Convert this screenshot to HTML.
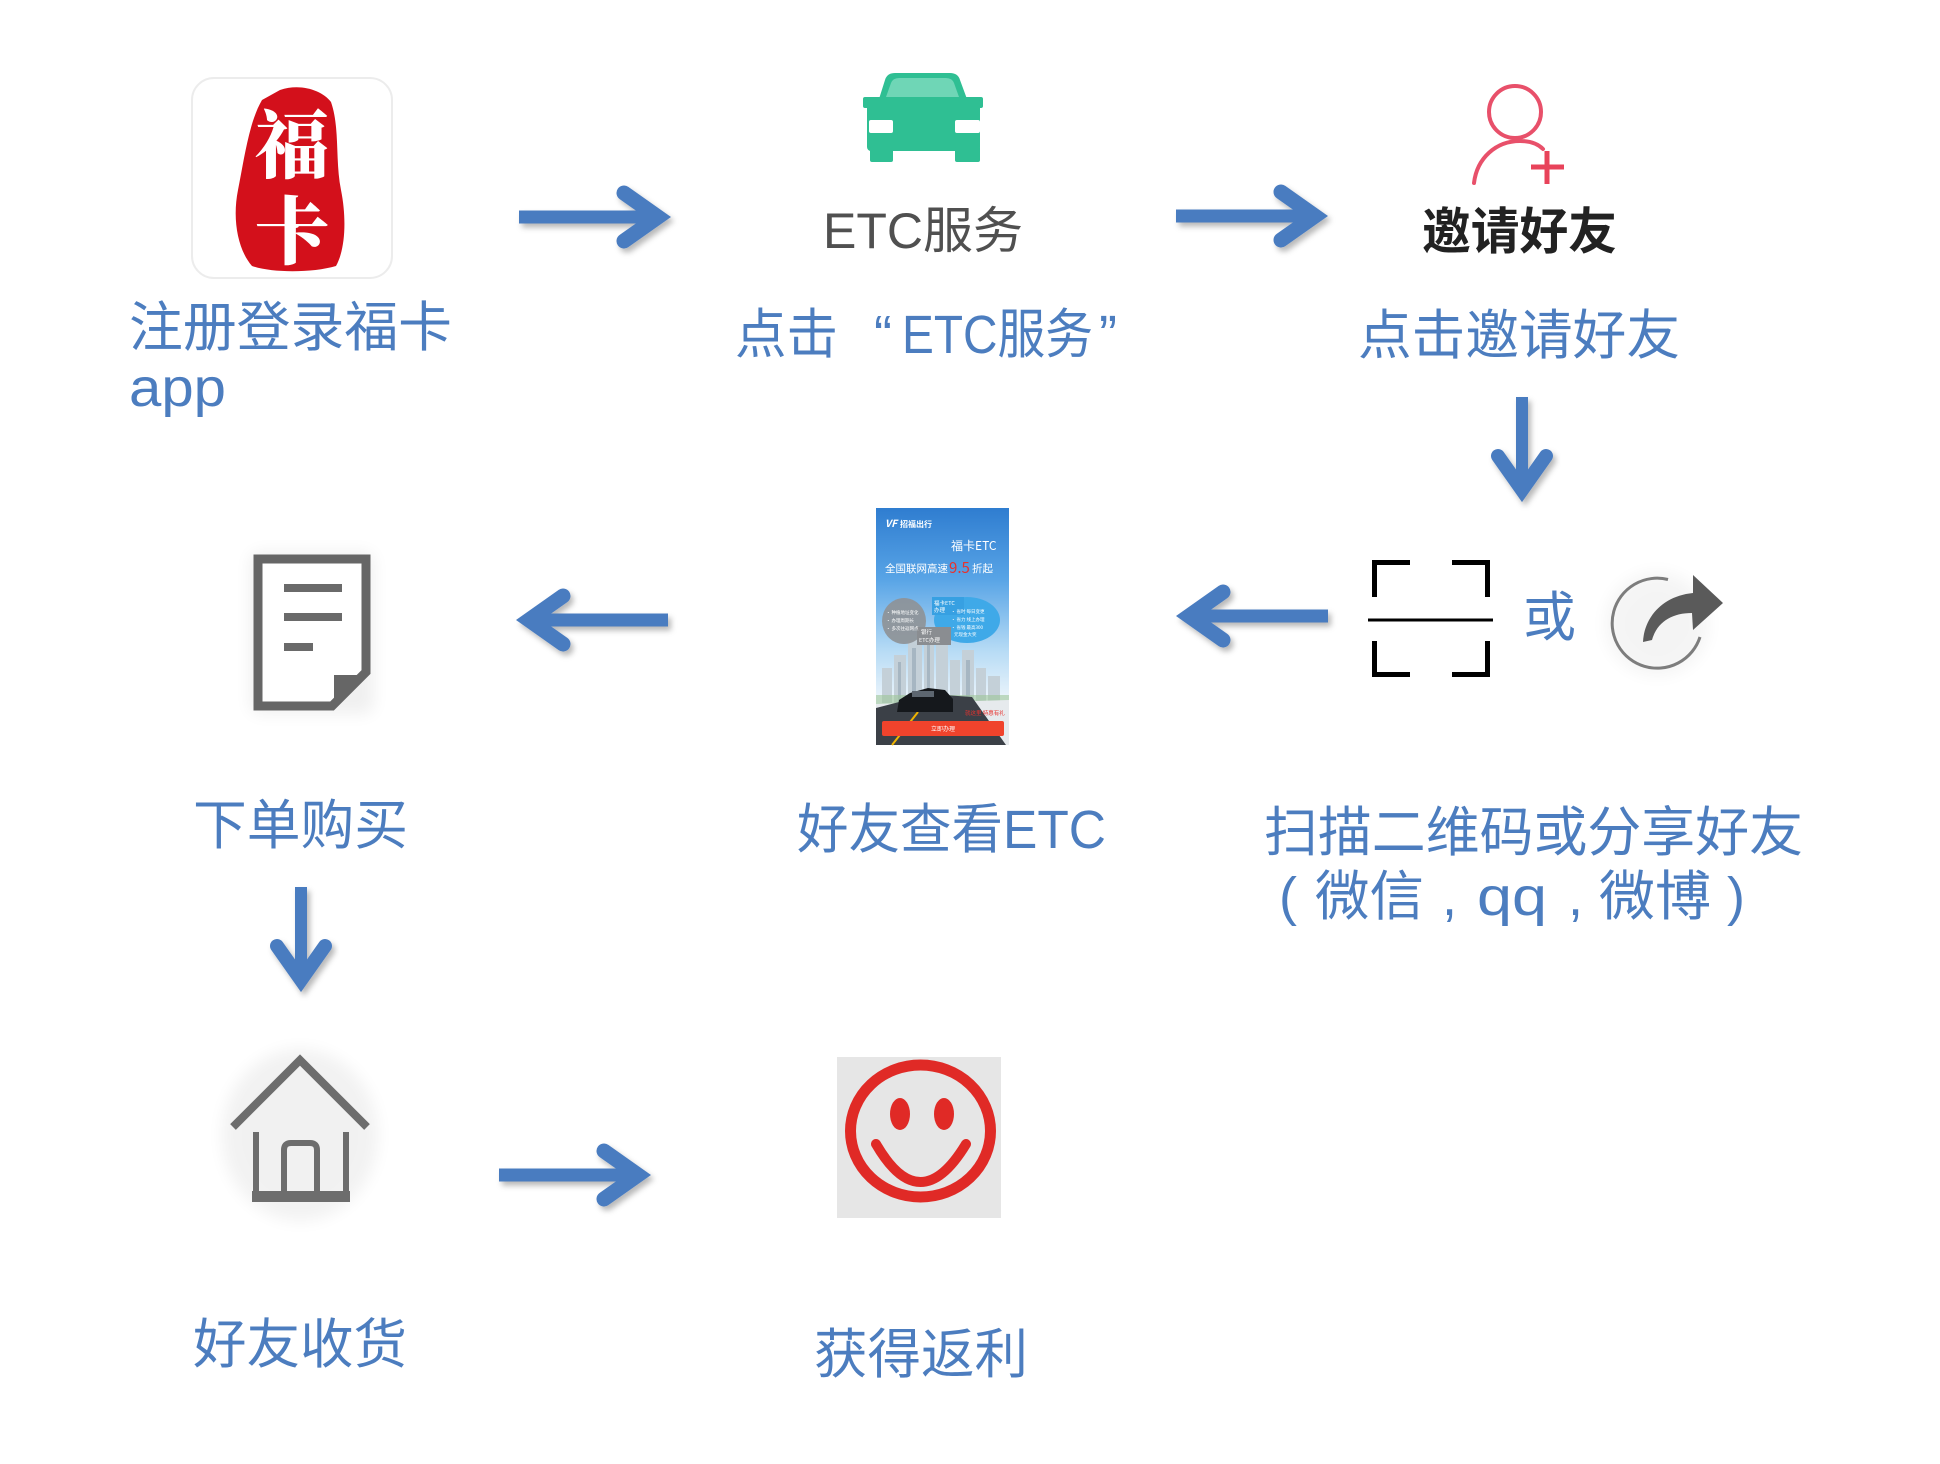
<!DOCTYPE html>
<html lang="zh-CN">
<head>
<meta charset="utf-8">
<title>福卡ETC流程</title>
<style>
  html,body{margin:0;padding:0;background:#fff;}
  body{width:1940px;height:1464px;overflow:hidden;}
  svg{display:block;}
  .lbl{font-family:"Liberation Sans","Noto Sans CJK SC",sans-serif;fill:#4c7dbf;font-size:54px;}
  .cjk{font-family:"Noto Sans CJK SC","Liberation Sans",sans-serif;}
</style>
</head>
<body>
<svg width="1940" height="1464" viewBox="0 0 1940 1464" xmlns="http://www.w3.org/2000/svg">
  <defs>
    <filter id="sh" x="-30%" y="-60%" width="160%" height="220%">
      <feDropShadow dx="3" dy="4" stdDeviation="3" flood-color="#000" flood-opacity="0.28"/>
    </filter>
    <filter id="blur8" x="-50%" y="-50%" width="200%" height="200%">
      <feGaussianBlur stdDeviation="8"/>
    </filter>
    <linearGradient id="sky" x1="0" y1="0" x2="0" y2="1">
      <stop offset="0" stop-color="#2f7dd0"/>
      <stop offset="0.3" stop-color="#58a4e6"/>
      <stop offset="0.6" stop-color="#b6dbf5"/>
      <stop offset="0.8" stop-color="#e9f3fb"/>
      <stop offset="1" stop-color="#f3f6f8"/>
    </linearGradient>
    <g id="arrH">
      <line x1="-152" y1="0" x2="-10" y2="0" stroke="#4a7cc0" stroke-width="13"/>
      <polyline points="-47,-24 -13,0 -47,24" fill="none" stroke="#4a7cc0" stroke-width="15" stroke-linecap="round" stroke-linejoin="miter"/>
    </g>
    <g id="arrV">
      <line x1="-106" y1="0" x2="-10" y2="0" stroke="#4a7cc0" stroke-width="12"/>
      <polyline points="-47,-24 -13,0 -47,24" fill="none" stroke="#4a7cc0" stroke-width="14" stroke-linecap="round" stroke-linejoin="miter"/>
    </g>
  </defs>

  <rect width="1940" height="1464" fill="#fff"/>

  <!-- ========== Row 1 ========== -->
  <rect x="192" y="78" width="200" height="200" rx="22" fill="#fff" stroke="#ececec" stroke-width="2"/>
  <path d="M280 90 C300 83 322 90 331 102 C340 128 335 160 341 190 C347 220 345 250 336 266 C312 273 272 273 252 266 C238 250 232 220 238 190 C244 160 249 122 262 100 Z" fill="#d3101b"/>
  <text x="292" y="172" text-anchor="middle" font-family="'Noto Serif CJK SC','Noto Sans CJK SC',serif" font-weight="900" font-size="74" fill="#fff">福</text>
  <text x="292" y="258" text-anchor="middle" font-family="'Noto Serif CJK SC','Noto Sans CJK SC',serif" font-weight="900" font-size="74" fill="#fff">卡</text>

  <text class="lbl" x="129" y="346" textLength="323" lengthAdjust="spacingAndGlyphs">注册登录福卡</text>
  <text class="lbl" x="129" y="406" font-size="56" textLength="97" lengthAdjust="spacingAndGlyphs">app</text>

  <g filter="url(#sh)"><use href="#arrH" transform="translate(671,217)"/></g>

  <!-- Car icon -->
  <g fill="#2fbf93">
    <path d="M879 99 L885 80 Q887 73 895 73 L950 73 Q958 73 960 80 L967 99 Z"/>
    <rect x="863" y="97" width="120" height="11" rx="2"/>
    <rect x="867" y="97" width="113" height="54" rx="4"/>
    <rect x="870" y="146" width="23" height="16" rx="2"/>
    <rect x="955" y="146" width="25" height="16" rx="2"/>
  </g>
  <path d="M886 97 L891 83 Q893 78 899 78 L946 78 Q952 78 954 83 L959 97 Z" fill="#6fd6b6"/>
  <rect x="869" y="120" width="24" height="13" rx="2" fill="#fff"/>
  <rect x="955" y="120" width="25" height="13" rx="2" fill="#fff"/>
  <text x="823" y="248" font-family="'Liberation Sans','Noto Sans CJK SC',sans-serif" font-size="50" fill="#505050" textLength="200" lengthAdjust="spacingAndGlyphs">ETC服务</text>

  <text class="lbl" x="735" y="353" textLength="103" lengthAdjust="spacingAndGlyphs">点击</text>
  <text class="lbl" x="874" y="353">“</text>
  <text class="lbl" x="902" y="353" textLength="191" lengthAdjust="spacingAndGlyphs">ETC服务</text>
  <text class="lbl" x="1099" y="353">”</text>

  <g filter="url(#sh)"><use href="#arrH" transform="translate(1328,216)"/></g>

  <!-- Person icon -->
  <g fill="none" stroke="#e8506a" stroke-width="4" stroke-linecap="round">
    <circle cx="1515" cy="112" r="26"/>
    <path d="M1474 183 C1477 158 1496 141 1520 141 C1530 141 1538 144 1543 149"/>
  </g>
  <g stroke="#e8435a" stroke-width="5">
    <line x1="1531" y1="167" x2="1564" y2="167"/>
    <line x1="1547" y1="151" x2="1547" y2="184"/>
  </g>
  <text x="1422" y="249" font-family="'Liberation Sans','Noto Sans CJK SC',sans-serif" font-size="50" font-weight="bold" fill="#222" textLength="195" lengthAdjust="spacingAndGlyphs">邀请好友</text>

  <text class="lbl" x="1358" y="354" textLength="322" lengthAdjust="spacingAndGlyphs">点击邀请好友</text>

  <g filter="url(#sh)"><use href="#arrV" transform="translate(1522,503) rotate(90)"/></g>

  <!-- ========== Row 2 ========== -->
  <rect x="250" y="552" width="124" height="162" rx="10" fill="#000" opacity="0.06" filter="url(#blur8)"/>
  <path d="M258 559 H366 V672 L332 706 H258 Z" fill="#fff" stroke="#666" stroke-width="9" stroke-linejoin="miter"/>
  <polygon points="334,675 368,675 334,708" fill="#666"/>
  <g stroke="#6a6a6a" stroke-width="8">
    <line x1="284" y1="588" x2="342" y2="588"/>
    <line x1="284" y1="617" x2="342" y2="617"/>
    <line x1="284" y1="647" x2="313" y2="647"/>
  </g>
  <text class="lbl" x="193" y="844" textLength="215" lengthAdjust="spacingAndGlyphs">下单购买</text>

  <g filter="url(#sh)"><use href="#arrH" transform="translate(516,620) rotate(180)"/></g>

  <!-- ETC Poster -->
  <g>
    <rect x="876" y="508" width="133" height="237" fill="url(#sky)"/>
    <g fill="#c4d0d8">
      <rect x="882" y="668" width="10" height="35"/>
      <rect x="894" y="655" width="12" height="48"/>
      <rect x="908" y="640" width="14" height="63"/>
      <rect x="924" y="630" width="10" height="73"/>
      <rect x="936" y="645" width="12" height="58"/>
      <rect x="950" y="660" width="10" height="43"/>
      <rect x="962" y="650" width="12" height="53"/>
      <rect x="976" y="668" width="10" height="35"/>
      <rect x="988" y="676" width="12" height="27"/>
    </g>
    <g fill="#9fb0bd" opacity="0.8">
      <rect x="912" y="648" width="4" height="55"/>
      <rect x="927" y="640" width="3" height="63"/>
      <rect x="966" y="660" width="4" height="43"/>
      <rect x="898" y="662" width="3" height="41"/>
    </g>
    <rect x="876" y="695" width="133" height="12" fill="#9fc79a" opacity="0.6"/>
    <polygon points="876,704 1009,700 1009,745 876,745" fill="#e6eaed"/>
    <polygon points="876,708 930,694 972,697 1006,745 876,745" fill="#3b4047"/>
    <line x1="892" y1="745" x2="918" y2="712" stroke="#f0b400" stroke-width="2"/>
    <path d="M897 712 L899 700 L910 693 L928 688 L945 690 L953 699 L953 712 Z" fill="#15181c"/>
    <rect x="912" y="691" width="22" height="6" fill="#5d6670"/>
    <ellipse cx="904" cy="621" rx="22" ry="23" fill="#8e9297" opacity="0.92"/>
    <ellipse cx="967" cy="620" rx="33" ry="23" fill="#3fa9e8"/>
    <rect x="932" y="597" width="32" height="18" fill="#37a0e2"/>
    <rect x="917" y="627" width="34" height="18" fill="#8a8d91"/>
    <g font-family="'Noto Sans CJK SC',sans-serif" fill="#fff">
      <text x="885" y="527" font-size="10" font-weight="bold" font-style="italic">VF</text>
      <text x="900" y="527" font-size="8" font-weight="bold">招福出行</text>
      <text x="951" y="550" font-size="12">福卡ETC</text>
      <text x="885" y="572" font-size="10.5">全国联网高速</text>
      <text x="949" y="573" font-size="15" fill="#e8322e">9.5</text>
      <text x="972" y="572" font-size="10.5">折起</text>
      <text x="934" y="605" font-size="5.5">福卡ETC</text>
      <text x="934" y="612" font-size="5.5">办理</text>
      <text x="886" y="614" font-size="4.5">• 种植地址变化</text>
      <text x="886" y="622" font-size="4.5">• 办理周期长</text>
      <text x="886" y="630" font-size="4.5">• 多次往返网点</text>
      <text x="951" y="613" font-size="4.5">• 省时 每日变更</text>
      <text x="951" y="621" font-size="4.5">• 省力 线上办理</text>
      <text x="951" y="629" font-size="4.5">• 省钱 最高300</text>
      <text x="954" y="636" font-size="4.5">元现金大奖</text>
      <text x="921" y="634" font-size="5.5">银行</text>
      <text x="919" y="642" font-size="5.5">ETC办理</text>
      <text x="965" y="715" font-size="5.5" fill="#e8322e">就这里 特惠有礼</text>
    </g>
    <rect x="882" y="721" width="122" height="15" rx="2" fill="#f0432c"/>
    <text x="943" y="731" text-anchor="middle" font-family="'Noto Sans CJK SC',sans-serif" font-size="6" fill="#fff">立即办理</text>
  </g>
  <text class="lbl" x="797" y="848" textLength="309" lengthAdjust="spacingAndGlyphs">好友查看ETC</text>

  <g filter="url(#sh)"><use href="#arrH" transform="translate(1176,616) rotate(180)"/></g>

  <!-- QR scan icon -->
  <g fill="none" stroke="#000" stroke-width="5" stroke-linecap="butt">
    <polyline points="1410,562.5 1374.5,562.5 1374.5,597"/>
    <polyline points="1452,562.5 1487.5,562.5 1487.5,597"/>
    <polyline points="1374.5,641 1374.5,674.5 1410,674.5"/>
    <polyline points="1487.5,641 1487.5,674.5 1452,674.5"/>
  </g>
  <line x1="1368" y1="620" x2="1493" y2="620" stroke="#000" stroke-width="3"/>
  <text class="lbl" x="1523" y="636" textLength="53" lengthAdjust="spacingAndGlyphs">或</text>

  <!-- Share icon -->
  <circle cx="1657" cy="624" r="52" fill="#000" opacity="0.04" filter="url(#blur8)"/>
  <path d="M1668 579.5 A45 45 0 1 0 1700 637" fill="none" stroke="#7d7d7d" stroke-width="3"/>
  <path d="M1643 642 C1644 618 1662 596 1693 593 L1693 575 L1723 603 L1693 630 L1692 613 C1672 613 1657 622 1652 640 Z" fill="#5a5a5a"/>

  <text class="lbl" x="1264" y="851" textLength="539" lengthAdjust="spacingAndGlyphs">扫描二维码或分享好友</text>
  <!-- second line pieces -->
  <text class="lbl" x="1279" y="915" font-weight="300">(</text>
  <text class="lbl" x="1315" y="915" textLength="109" lengthAdjust="spacingAndGlyphs">微信</text>
  <text class="lbl" x="1442" y="915">,</text>
  <text class="lbl" x="1477" y="915" textLength="70" lengthAdjust="spacingAndGlyphs">qq</text>
  <text class="lbl" x="1568" y="915">,</text>
  <text class="lbl" x="1599" y="915" textLength="112" lengthAdjust="spacingAndGlyphs">微博</text>
  <text class="lbl" x="1727" y="915">)</text>

  <g filter="url(#sh)"><use href="#arrV" transform="translate(301,993) rotate(90)"/></g>

  <!-- ========== Row 3 ========== -->
  <ellipse cx="300" cy="1135" rx="78" ry="86" fill="#000" opacity="0.05" filter="url(#blur8)"/>
  <polyline points="233,1127 300,1060 367,1127" fill="none" stroke="#6d6d6d" stroke-width="8" stroke-linejoin="miter"/>
  <g stroke="#6d6d6d" stroke-width="6" fill="none">
    <line x1="256" y1="1132" x2="256" y2="1196"/>
    <line x1="346" y1="1132" x2="346" y2="1196"/>
    <path d="M284 1195 V1150 Q284 1143 291 1143 H310 Q317 1143 317 1150 V1195"/>
  </g>
  <rect x="252" y="1191" width="98" height="11" fill="#6d6d6d"/>
  <text class="lbl" x="193" y="1363" textLength="214" lengthAdjust="spacingAndGlyphs">好友收货</text>

  <g filter="url(#sh)"><use href="#arrH" transform="translate(651,1175)"/></g>

  <!-- Smiley -->
  <rect x="837" y="1057" width="164" height="161" fill="#e6e6e6"/>
  <ellipse cx="920.5" cy="1131" rx="70" ry="66" fill="none" stroke="#e02a26" stroke-width="11"/>
  <ellipse cx="900" cy="1114" rx="10" ry="16" fill="#e02a26"/>
  <ellipse cx="944" cy="1114" rx="10" ry="16" fill="#e02a26"/>
  <path d="M876 1144 Q920 1220 966 1144" fill="none" stroke="#e02a26" stroke-width="10" stroke-linecap="round"/>
  <text class="lbl" x="814" y="1373" textLength="214" lengthAdjust="spacingAndGlyphs">获得返利</text>
</svg>
</body>
</html>
